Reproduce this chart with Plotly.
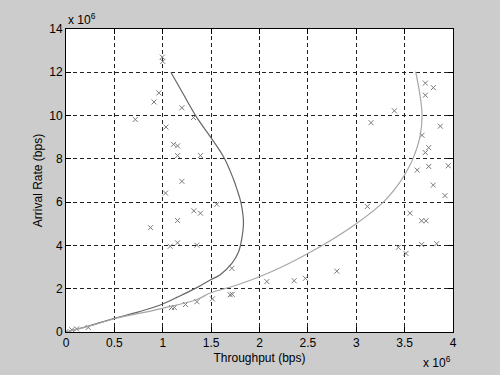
import plotly.graph_objects as go

# Values in units of 10^6 bps
dark_x = [0, 0.25, 0.49, 0.75, 0.974, 1.146, 1.353, 1.49, 1.594, 1.714, 1.783, 1.817,
          1.834, 1.807, 1.766, 1.73, 1.628, 1.34, 1.212, 1.084]
dark_y = [0, 0.3, 0.62, 0.93, 1.25, 1.6, 2.05, 2.4, 2.65, 3.17, 3.7, 4.31,
          5.08, 6.0, 6.61, 7.07, 8.1, 10.0, 11.0, 12.0]

light_x = [0, 0.25, 0.49, 0.974, 1.353, 1.49, 1.766, 2.0, 2.25, 2.5, 2.76, 3.0, 3.28,
           3.4, 3.494, 3.585, 3.66, 3.68, 3.655, 3.614]
light_y = [0, 0.28, 0.6, 1.07, 1.5, 1.8, 2.17, 2.55, 3.05, 3.63, 4.3, 5.0, 6.0,
           6.61, 7.22, 8.0, 9.05, 10.05, 11.05, 12.03]

pts_x = [0.0, 0.06, 0.11, 0.23,
         0.995, 1.0, 0.96, 0.91, 0.716, 1.198, 1.318, 1.033, 1.111, 1.153, 1.153, 1.39,
         1.198, 1.029, 1.559, 1.322, 1.39, 1.153, 0.874, 1.153, 1.077, 1.353, 1.714,
         1.697, 1.718, 1.514, 1.353, 1.235, 1.09, 1.12,
         2.076, 2.358, 2.475, 2.799, 3.115, 3.556, 3.676, 3.721, 3.435, 3.514, 3.676,
         3.831, 3.917, 3.796, 3.63, 3.749, 3.951, 3.714, 3.749, 3.68, 3.869, 3.153,
         3.394, 3.714, 3.797, 3.714]
pts_y = [0.02, 0.1, 0.14, 0.21,
         12.7, 12.5, 11.05, 10.63, 9.82, 10.36, 9.91, 9.47, 8.67, 8.60, 8.15, 8.15,
         6.96, 6.42, 5.90, 5.60, 5.49, 5.15, 4.82, 4.12, 3.96, 4.01, 2.94,
         1.72, 1.74, 1.53, 1.40, 1.27, 1.13, 1.13,
         2.33, 2.37, 2.48, 2.81, 5.80, 5.49, 5.14, 5.14, 3.91, 3.63, 4.04,
         4.08, 6.30, 6.79, 7.48, 7.65, 7.68, 8.29, 8.52, 9.09, 9.51, 9.67,
         10.22, 10.94, 11.29, 11.5]

x_ticks = [0, 0.5, 1, 1.5, 2, 2.5, 3, 3.5, 4]
x_tick_labels = ["0", "0.5", "1", "1.5", "2", "2.5", "3", "3.5", "4"]
y_ticks = [0, 2, 4, 6, 8, 10, 12, 14]
y_tick_labels = ["0", "2", "4", "6", "8", "10", "12", "14"]

FONT = "Liberation Sans, Arial, sans-serif"

fig = go.Figure()
fig.add_trace(go.Scatter(
    x=pts_x, y=pts_y, mode="markers",
    marker=dict(symbol="x-thin", size=5, line=dict(width=1, color="#7a7a7a"), color="#7a7a7a"),
    showlegend=False))
fig.add_trace(go.Scatter(
    x=dark_x, y=dark_y, mode="lines",
    line=dict(color="#666666", width=1.2, shape="spline", smoothing=1.0),
    showlegend=False))
fig.add_trace(go.Scatter(
    x=light_x, y=light_y, mode="lines",
    line=dict(color="#a6a6a6", width=1.2, shape="spline", smoothing=1.0),
    showlegend=False))

axis_common = dict(
    showgrid=True, gridcolor="#222222", gridwidth=1, griddash="4px,3px",
    showline=True, linecolor="black", linewidth=1, mirror="ticks",
    ticks="inside", ticklen=5, tickcolor="black", zeroline=False,
    tickfont=dict(family=FONT, size=12, color="black"),
)

fig.update_layout(
    width=500, height=375,
    paper_bgcolor="#cccccc", plot_bgcolor="white",
    margin=dict(l=66, r=47, t=29, b=41),
    font=dict(family=FONT, size=12, color="black"),
    xaxis=dict(range=[0, 4], tickvals=x_ticks, ticktext=x_tick_labels,
               title=dict(text="Throughput (bps)", standoff=4,
                          font=dict(family=FONT, size=12, color="black")),
               **axis_common),
    yaxis=dict(range=[0, 14], tickvals=y_ticks, ticktext=y_tick_labels,
               title=dict(text="Arrival Rate (bps)", standoff=4,
                          font=dict(family=FONT, size=12, color="black")),
               **axis_common),
    annotations=[
        dict(text="x 10<sup>6</sup>", xref="paper", yref="paper", x=0.0, y=1.0,
             xanchor="left", yanchor="bottom", showarrow=False,
             font=dict(family=FONT, size=12, color="black")),
        dict(text="x 10<sup>6</sup>", xref="paper", yref="paper", x=1.0, y=-0.10,
             xanchor="right", yanchor="middle", showarrow=False,
             font=dict(family=FONT, size=12, color="black")),
    ],
)

fig.write_html("out.html")
